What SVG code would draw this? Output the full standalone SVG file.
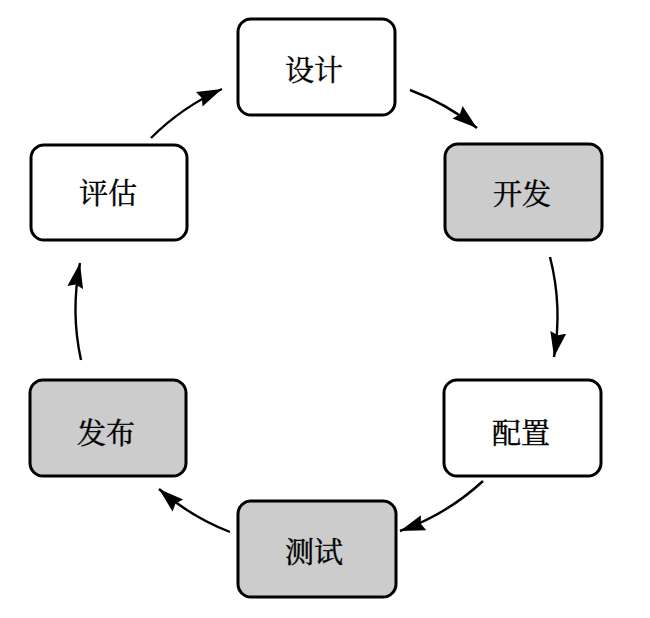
<svg xmlns="http://www.w3.org/2000/svg" width="650" height="618" viewBox="0 0 650 618">
<style>
.box{stroke:#000;stroke-width:3}
.w{fill:#fff}
.g{fill:#cccccc}
.t{font-family:"Noto Serif CJK SC","Noto Sans CJK SC",serif;font-size:29px;fill:#000;stroke:#000;stroke-width:0.4;text-anchor:middle;dominant-baseline:central}
.c{fill:none;stroke:#000;stroke-width:2.4;marker-end:url(#ah)}
</style>
<defs>
<marker id="ah" markerUnits="userSpaceOnUse" markerWidth="28" markerHeight="18" refX="25" refY="9" orient="auto">
<path d="M0,1 L25,9 L0,17 L3,9 Z" fill="#000"/>
</marker>
</defs>
<rect width="650" height="618" fill="#fff"/>
<g id="connectors">
<path class="c" d="M410,90 A239,239 0 0 1 477,128"/>
<path class="c" d="M550,257 A239,239 0 0 1 554,357"/>
<path class="c" d="M483,481 A239,239 0 0 1 400,531"/>
<path class="c" d="M230,532 A239,239 0 0 1 159,489"/>
<path class="c" d="M81,360 A239,239 0 0 1 80,263"/>
<path class="c" d="M151,138 A239,239 0 0 1 222,89"/>
</g>
<g id="node-design"><rect class="box w" x="238" y="19" width="157" height="96" rx="13"/><text class="t" x="314" y="68">设计</text></g>
<g id="node-develop"><rect class="box g" x="445" y="144" width="157" height="96" rx="13"/><text class="t" x="522" y="192">开发</text></g>
<g id="node-config"><rect class="box w" x="444" y="380" width="157" height="96" rx="13"/><text class="t" x="521" y="431">配置</text></g>
<g id="node-test"><rect class="box g" x="238" y="501" width="158" height="96" rx="13"/><text class="t" x="314" y="550">测试</text></g>
<g id="node-release"><rect class="box g" x="30" y="380" width="156" height="96" rx="13"/><text class="t" x="106" y="431">发布</text></g>
<g id="node-evaluate"><rect class="box w" x="31" y="145" width="156" height="95" rx="13"/><text class="t" x="108" y="191">评估</text></g>
</svg>
